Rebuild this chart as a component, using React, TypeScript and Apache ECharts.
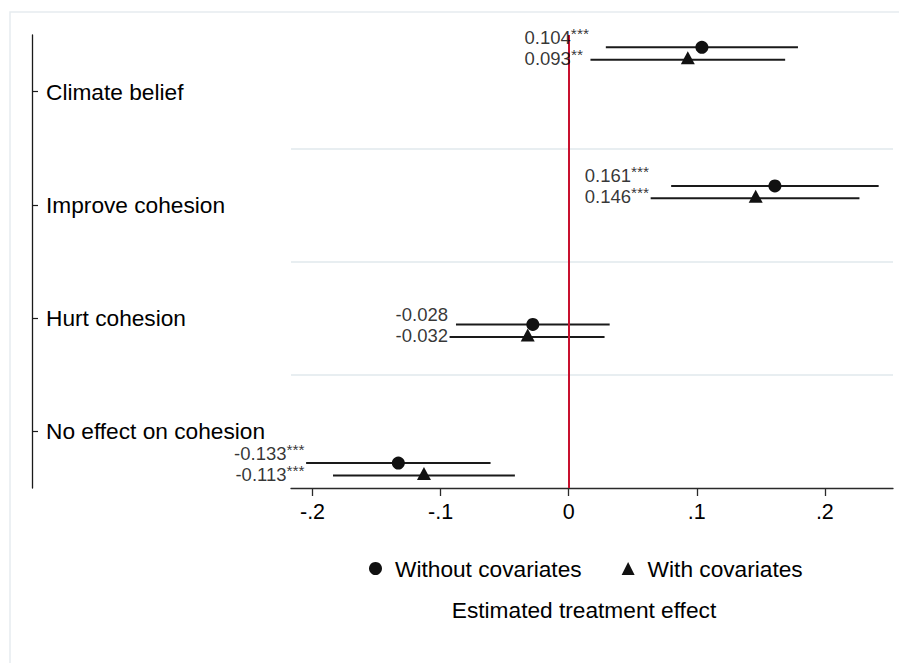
import React, { useEffect, useRef } from 'react';
import * as echarts from 'echarts';

// ---- data ----
const categories = ['Climate belief', 'Improve cohesion', 'Hurt cohesion', 'No effect on cohesion'];
const seriesNames = ['Without covariates', 'With covariates'];
const estWithout = [0.104, 0.161, -0.028, -0.133];
const lowWithout = [0.029, 0.080, -0.088, -0.205];
const highWithout = [0.179, 0.242, 0.032, -0.061];
const starsWithout = ['***', '***', '', '***'];
const estWith = [0.093, 0.146, -0.032, -0.113];
const lowWith = [0.017, 0.064, -0.093, -0.184];
const highWith = [0.169, 0.227, 0.028, -0.042];
const starsWith = ['**', '***', '', '***'];
const xTickValues = [-0.2, -0.1, 0, 0.1, 0.2];
const xTickLabels = ['-.2', '-.1', '0', '.1', '.2'];
const axisTitle = 'Estimated treatment effect';

// ---- layout constants ----
const X_MIN = -0.2168;
const X_MAX = 0.2532;
const Y_MIN = -0.0887;
const Y_MAX = 3.1797;
const WITH_OFFSET = 0.09;
const FONT = '"Liberation Sans", Arial, Helvetica, sans-serif';
const INK = '#000000';

const fmtLabel = (v: number, stars: string) => {
  const n = `{n|${v.toFixed(3)}}`;
  if (!stars) return n;
  return stars.length === 2 ? `${n}{s2|${stars}}` : `${n}{s|${stars}}`;
};

const labelRich = {
  n: { fontSize: 18.5, lineHeight: 18, color: INK, fontFamily: FONT },
  s: { fontSize: 15.5, lineHeight: 12, color: INK, fontFamily: FONT, padding: [0, 0, 8, 0] },
  s2: { fontSize: 15.5, lineHeight: 12, color: INK, fontFamily: FONT, padding: [0, 6, 8, 0] },
};

const ciSeries = (low: number[], high: number[], off: number) => ({
  type: 'custom',
  xAxisIndex: 0,
  yAxisIndex: 1,
  silent: true,
  z: 2,
  encode: { x: [0, 1], y: 2 },
  data: categories.map((_, i) => [low[i], high[i], i + off]),
  renderItem: (_p: any, api: any) => {
    const a = api.coord([api.value(0), api.value(2)]);
    const b = api.coord([api.value(1), api.value(2)]);
    return {
      type: 'line',
      shape: { x1: a[0], y1: a[1], x2: b[0], y2: b[1] },
      style: { stroke: '#1a1a1a', lineWidth: 2 },
    };
  },
});

export default function App() {
  const ref = useRef<HTMLDivElement>(null);
  useEffect(() => {
    if (!ref.current) return;
    const chart = echarts.init(ref.current, undefined, { renderer: 'svg' });
    const anchors = categories.map((_, i) => Math.min(lowWithout[i], lowWith[i]));
    chart.setOption({
      animation: false,
      backgroundColor: '#ffffff',
      textStyle: { fontFamily: FONT, color: INK },
      graphic: [
        {
          type: 'rect',
          z: -10,
          shape: { x: 10, y: 12, width: 900, height: 670 },
          style: { fill: 'none', stroke: '#e6ecef', lineWidth: 1.5 },
        },
      ],
      grid: { left: 291, right: 6, top: 35, bottom: 175, containLabel: false },
      legend: {
        data: [
          { name: seriesNames[0], icon: 'circle' },
          { name: seriesNames[1], icon: 'triangle' },
        ],
        left: 364,
        top: 552,
        itemWidth: 13,
        itemHeight: 13,
        itemGap: 40,
        textStyle: { fontSize: 22.7, color: INK, fontFamily: FONT, padding: [0, 0, 0, 8] },
        selectedMode: false,
      },
      xAxis: {
        type: 'value',
        min: X_MIN,
        max: X_MAX,
        name: axisTitle,
        nameLocation: 'middle',
        nameGap: 110,
        nameTextStyle: { fontSize: 22.7, color: INK, fontFamily: FONT, padding: [0, 16, 0, 0] },
        axisLine: { show: true, onZero: false, lineStyle: { color: '#2a2a2a', width: 1.3 } },
        axisTick: {
          show: true,
          length: 8,
          customValues: xTickValues,
          lineStyle: { color: '#2a2a2a', width: 1.3 },
        },
        axisLabel: {
          customValues: xTickValues,
          fontSize: 21.5,
          color: INK,
          margin: 13,
          formatter: (v: number) => {
            const k = xTickValues.findIndex((t) => Math.abs(t - v) < 1e-9);
            return k >= 0 ? xTickLabels[k] : '';
          },
        },
        splitLine: { show: false },
      },
      yAxis: [
        {
          type: 'category',
          data: categories,
          inverse: true,
          position: 'left',
          offset: 259,
          boundaryGap: true,
          axisLine: { show: true, onZero: false, lineStyle: { color: '#1a1a1a', width: 1.3 } },
          axisTick: { show: true, inside: true, alignWithLabel: true, length: 6, lineStyle: { color: '#1a1a1a', width: 1.2 } },
          axisLabel: { inside: true, margin: 14, fontSize: 22.7, lineHeight: 20, color: INK, fontFamily: FONT, padding: [3, 0, 0, 0] },
          splitLine: {
            show: true,
            showMinLine: false,
            showMaxLine: false,
            lineStyle: { color: '#e8eef1', width: 2 },
          },
        },
        {
          type: 'value',
          show: false,
          inverse: true,
          min: Y_MIN,
          max: Y_MAX,
          splitLine: { show: false },
        },
      ],
      series: [
        ciSeries(lowWithout, highWithout, 0),
        ciSeries(lowWith, highWith, WITH_OFFSET),
        {
          name: seriesNames[0],
          type: 'scatter',
          xAxisIndex: 0,
          yAxisIndex: 1,
          z: 4,
          symbol: 'circle',
          symbolSize: 13,
          itemStyle: { color: '#111111', opacity: 1 },
          data: estWithout.map((v, i) => [v, i]),
          markLine: {
            silent: true,
            symbol: ['none', 'none'],
            label: { show: false },
            lineStyle: { color: '#c8102e', width: 2, type: 'solid' },
            data: [{ xAxis: 0 }],
            z: 3,
          },
        },
        {
          name: seriesNames[1],
          type: 'scatter',
          xAxisIndex: 0,
          yAxisIndex: 1,
          z: 4,
          symbol: 'triangle',
          symbolSize: [14, 13],
          symbolOffset: [0, -2],
          itemStyle: { color: '#111111', opacity: 1 },
          data: estWith.map((v, i) => [v, i + WITH_OFFSET]),
        },
        {
          type: 'scatter',
          xAxisIndex: 0,
          yAxisIndex: 1,
          silent: true,
          z: 5,
          symbolSize: 1,
          itemStyle: { color: 'rgba(0,0,0,0)' },
          label: {
            show: true,
            position: 'left',
            distance: 1,
            offset: [0, -10],
            formatter: (p: any) => fmtLabel(estWithout[p.dataIndex], starsWithout[p.dataIndex]),
            rich: labelRich,
          },
          data: anchors.map((a, i) => [a, i]),
        },
        {
          type: 'scatter',
          xAxisIndex: 0,
          yAxisIndex: 1,
          silent: true,
          z: 5,
          symbolSize: 1,
          itemStyle: { color: 'rgba(0,0,0,0)' },
          label: {
            show: true,
            position: 'left',
            distance: 1,
            offset: [0, -1.5],
            formatter: (p: any) => fmtLabel(estWith[p.dataIndex], starsWith[p.dataIndex]),
            rich: labelRich,
          },
          data: anchors.map((a, i) => [a, i + WITH_OFFSET]),
        },
      ],
    });
    return () => chart.dispose();
  }, []);
  return (
    <div
      ref={ref}
      style={{ position: 'absolute', left: 0, top: 0, width: 899, height: 663 }}
    />
  );
}
